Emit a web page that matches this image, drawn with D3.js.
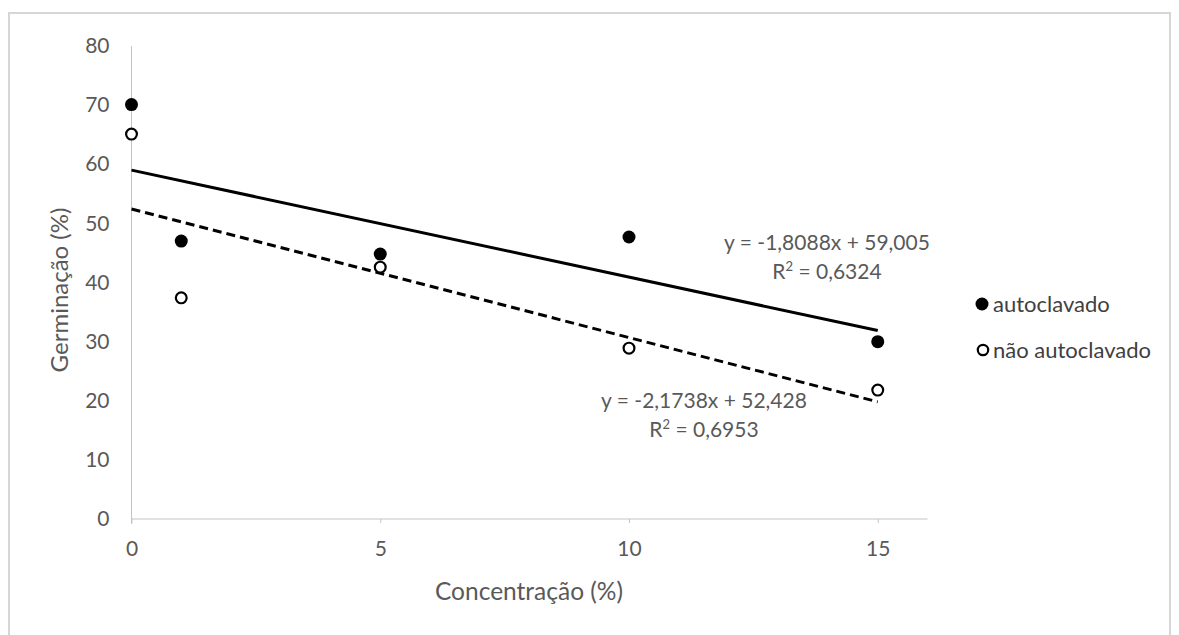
<!DOCTYPE html>
<html>
<head>
<meta charset="utf-8">
<script src="https://cdn.jsdelivr.net/npm/d3@7"></script>
<style>
  html, body { margin: 0; padding: 0; background: #fff; }
  svg { display: block; }
  text { font-family: Lato, "Open Sans", sans-serif; }
</style>
</head>
<body>
<script>
// Concentration levels (%) and germination (%) for each treatment
const concentracao = [0, 1, 5, 10, 15];
const autoclavado = [70.1, 47.0, 44.8, 47.7, 30.0];
const naoAutoclavado = [65.1, 37.4, 42.6, 28.9, 21.8];

// Linear trendlines: slope, intercept, R²
const trendAuto = { slope: -1.8088, intercept: 59.005, r2: "0,6324" };
const trendNao = { slope: -2.1738, intercept: 52.428, r2: "0,6953" };

const xTicks = [0, 5, 10, 15];
const yTicks = [0, 10, 20, 30, 40, 50, 60, 70, 80];
const seriesNames = ["autoclavado", "não autoclavado"];

const W = 1179, H = 635;
const svg = d3.select("body").append("svg").attr("width", W).attr("height", H);

// outer chart frame
svg.append("rect")
  .attr("x", 9).attr("y", 13).attr("width", 1161).attr("height", 640)
  .attr("fill", "#fff").attr("stroke", "#d6d6d6").attr("stroke-width", 2);

const x = d3.scaleLinear().domain([0, 16]).range([131.5, 927.5]);
const y = d3.scaleLinear().domain([0, 80]).range([519, 46]);

const axisColor = "#c4c4c4";
const tickText = "#595959";

// y axis
const yAxis = svg.append("g").attr("transform", `translate(${x(0)},0)`)
  .call(d3.axisLeft(y).tickValues(yTicks).tickSize(0).tickPadding(22));
yAxis.select(".domain").attr("stroke", axisColor).attr("d", `M0,${y(80)}V${y(0) + 5}`);
yAxis.selectAll("text").attr("fill", tickText).style("font-size", "21px");

// x axis
const xAxis = svg.append("g").attr("transform", `translate(0,${y(0)})`)
  .call(d3.axisBottom(x).tickValues(xTicks).tickSize(4).tickPadding(18));
xAxis.select(".domain").attr("stroke", axisColor).attr("d", `M${x(0)},0H${x(16)}`);
xAxis.selectAll(".tick line").attr("stroke", axisColor);
xAxis.selectAll("text").attr("fill", tickText).style("font-size", "21px");

// axis titles
svg.append("text")
  .attr("transform", `translate(68,290) rotate(-90)`)
  .attr("text-anchor", "middle").attr("fill", tickText).style("font-size", "24px")
  .text("Germinação (%)");
svg.append("text")
  .attr("x", 529).attr("y", 600)
  .attr("text-anchor", "middle").attr("fill", tickText).style("font-size", "24.5px")
  .text("Concentração (%)");

// trendlines
function trendLine(t, dash) {
  const [x0, x1] = d3.extent(concentracao);
  svg.append("line")
    .attr("x1", x(x0)).attr("y1", y(t.intercept + t.slope * x0))
    .attr("x2", x(x1)).attr("y2", y(t.intercept + t.slope * x1))
    .attr("stroke", "#000").attr("stroke-width", 3)
    .attr("stroke-dasharray", dash ? "9,5" : null);
}
trendLine(trendAuto, false);
trendLine(trendNao, true);

// data points
svg.append("g").selectAll("circle")
  .data(concentracao.map((c, i) => [c, autoclavado[i]]))
  .join("circle")
  .attr("cx", d => x(d[0])).attr("cy", d => y(d[1])).attr("r", 6.5)
  .attr("fill", "#000");
svg.append("g").selectAll("circle")
  .data(concentracao.map((c, i) => [c, naoAutoclavado[i]]))
  .join("circle")
  .attr("cx", d => x(d[0])).attr("cy", d => y(d[1])).attr("r", 5.4)
  .attr("fill", "#fff").attr("stroke", "#000").attr("stroke-width", 2.2);

// equation labels
function fmt(v, d) { return Math.abs(v).toFixed(d).replace(".", ","); }
function eqLabel(t, cx, cy) {
  const g = svg.append("g").attr("fill", tickText).style("font-size", "21px").attr("text-anchor", "middle");
  g.append("text").attr("x", cx).attr("y", cy)
    .text(`y = -${fmt(t.slope, 4)}x + ${fmt(t.intercept, 3)}`);
  const r = g.append("text").attr("x", cx).attr("y", cy + 29);
  r.append("tspan").text("R");
  r.append("tspan").attr("dy", -8).style("font-size", "13px").text("2");
  r.append("tspan").attr("dy", 8).text(" = " + t.r2);
}
eqLabel(trendAuto, 827, 250);
eqLabel(trendNao, 704, 408);

// legend
const legend = svg.append("g").style("font-size", "22px");
legend.append("circle").attr("cx", 982).attr("cy", 304).attr("r", 6.5).attr("fill", "#000");
legend.append("text").attr("x", 993).attr("y", 312).attr("fill", "#404040").text(seriesNames[0]);
legend.append("circle").attr("cx", 983).attr("cy", 350).attr("r", 5.2).attr("fill", "#fff")
  .attr("stroke", "#000").attr("stroke-width", 2.2);
legend.append("text").attr("x", 993).attr("y", 358).attr("fill", "#404040").text(seriesNames[1]);
</script>
</body>
</html>
